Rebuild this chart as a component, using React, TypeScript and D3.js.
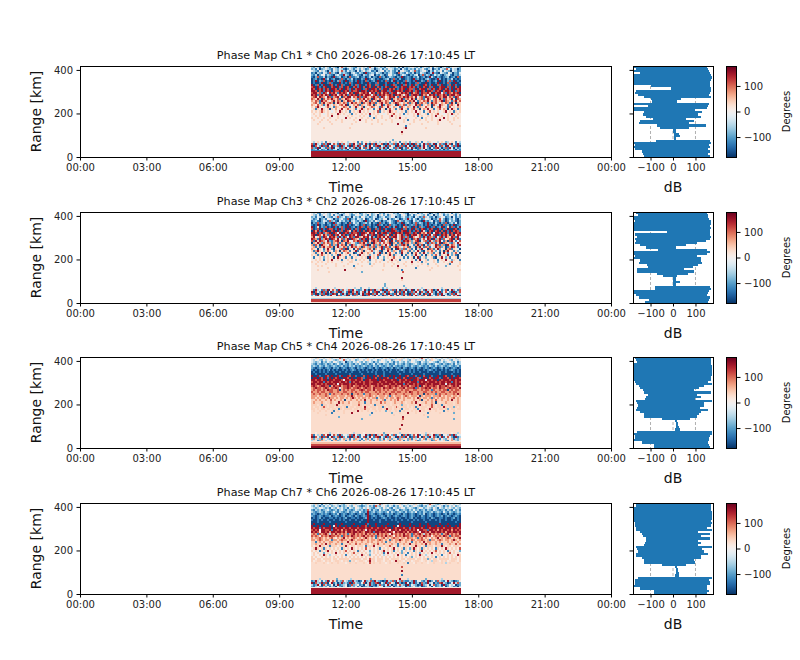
import { useRef, useEffect } from "react";
import * as d3 from "d3";

// Phase levels, one letter per cell in the grids below
const phaseLevels: Record<string, number> = {
  a: -165, b: -125, c: -90, d: -55, e: -20, f: 15, k: 30, g: 40, h: 75, i: 115, j: 155,
};

const titles = [
  "Phase Map Ch1 * Ch0 2026-08-26 17:10:45 LT",
  "Phase Map Ch3 * Ch2 2026-08-26 17:10:45 LT",
  "Phase Map Ch5 * Ch4 2026-08-26 17:10:45 LT",
  "Phase Map Ch7 * Ch6 2026-08-26 17:10:45 LT",
];

const timeTicks = [0, 3, 6, 9, 12, 15, 18, 21, 24];
const rangeTicks = [0, 200, 400];
const phaseTicks = [-100, 0, 100];
const dbTicks = [-100, 0, 100];
const startHour = 10.43;
const stopHour = 17.2;
const rangeMax = 418;

// Rows run from the top of the range axis down, columns from startHour to stopHour.
// A one letter row is a flat row over the whole time span.
const phaseCh1 = [
  "dcedbecfdbedcaeidcefdcbedfdeciebdecdbfeddcebeadcdefdcebdedcfbedcadecbdfedc",
  "cdbeacdedcbfdcedbacedbdecfdbcedacdebdcfedbcdaecbdcdbecdfcbdeacdbedcifbedac",
  "edcbfdecadbedcfidbecdcaebdfcdebcadefbdcecbdaefdcbedicbdefcadbecdfbedcaedbc",
  "bcadcbedbicdbaecdcbadecbdcajbcdbedcacbdecbaidcbecbdacbedcabdjcbaedcbfdacbe",
  "cbdacefbdcbadecbjdcabdecbadcbdeacbdcabfecdbacedbacbdeacibdcabecdbacdebacbd",
  "bacibbdacbajbcdabcaibbcdabcabdacbaibcabdcbacbjabcbacbdabcabjdbacbabcdabcaib",
  "abcabajbdabcaabibacbdabaacbjabdcabaabcdabibacaabcbajbcabacdbaabjcabacbdabab",
  "abjacbiabajbacibajabcabjabaibabcajabaibacjabaabicbabjaacbaibabcajabacibjaba",
  "abaabjaabibaaajbabaibaajabaajbaabiaaabjaabaiabajabaabibaajabaabjaabaibaajab",
  "jabiabjaajiabjaibaajbaibjaabjiaaibaajbaajibaajbiabjaibaajiabjaaibjaabiajbaa",
  "ijajbaijaaijajbiajiaaijbjaiajiajaijbaijaajibaijjaijiabjaijaibjaaijjaibjaiaj",
  "jiajijbjiajjiaijajibjaijjabijajjiaibjjaijiabjijajiibjaijjaibjiajijaijbjajij",
  "jjiaijbjijajiijajijbjiijajjiajijijaijjbijajijiajjijbijajiajjibjijaijjiajbij",
  "ijjhibjiejijhbjijiejiajjhijijejiaijhjijbijjehjijiajhijbjiijhajijjeibjihjija",
  "jijbijhjiajijeijhjbijijaijhjjieijbjijhijiajijheijbijjiajhiejijbjihjiaijjhij",
  "hijgjihejibhijgaihjjeihjibijhgijhibjiehjijgbihjijhigjehibjihgjiaihjjgihbjie",
  "ihgjhaigihjhgibhgjiheghbihjgihajhgieighjahgihjbhigjhaghibgjhehigjhbighjgaih",
  "hgihbjhigehjgihahgjihbgehigjhbighajhgihfbjghijhagihjebhgihjgbhighjaihgbhjgi",
  "ghigbhjghihagjhgihbgjhighaighjhibghjgihbghjigehgibhgjahighbgjhigehgihbjgahg",
  "hgfighbgjgehgfhigjagfhgibhgehigahfgjbgihgfajhgibghgfjhibgfhgaigejhgfbhigfjg",
  "gfhjgfegigfbhgfgihgbfgjgfhagfgihfgbigfjgehgfbigfhgfjgbhgfigfagfhjgfgbifgehg",
  "fgbgfjgfgagfhfgjfgigfgbfgjgfhgfbfgjfgagifgbfhjfgbfgifgafhgjfgbfgifhgafjgfbg",
  "gfgfgigfgfefgfjgfgfbfgfgjfgfgefgfibfgfgjgfgefgfbgfgfjfgfbfgifgfgefgjfgfbgfg",
  "fgffgfefgfgffjgfgffgbfgffgfgfjfgfgffefgfgiffgfbfgffgfjgffgbfgfgiffefgfjgfgf",
  "ffgfgfffgfjffgffffgfgfffgfgffbffgffgfffgjfgfgffefffgfbfgffgfgfjffgffgfefgff",
  "gffgffgffgfffgfffjfgffgffgffgffbgffgfffgffgfjffgffffgffbfgffgfffgfjfgffgfgf",
  "fgfffgffgfffgffgfffffgffjffgffgffgfffgffgfffffgfbffgffgffgffgffgjfffgffgfff",
  "ffffgffffgfffffgffffffgffffgfffffgffffffgfffffgffffgffffffgffffgfffffgfffff",
  "fffgffffffgfffffffffgfffffffffgffffgfffffffjfffffgfffffgfffffffgffffffgffff",
  "fffffffffffffffffffffffffffffffffffffffffffffffbffffffffffffffffffffffffffg",
  "ffffffgffffffffffffgffffffffffffffffffffffffffgjfffffffffgfffffffffffffffff",
  "f",
  "ffffffffffffffffffffffffffffffffffffffffffffffjfffffffffffffffffffffffffffff",
  "ffffffffffffffffffffffffffffffffffffffffffffffgfffffffffffffffffffffffffffff",
  "f",
  "f",
  "fffffffffffffffffffffffffffffffffffffffffcffffffffffffffffffffffffffffffffff",
  "fdfgfdfbfgfefdfgffdefgfbfcfgfdfgdfdefdfcfgdfbfgdfcffdgfbffdgfefdfgfcdfgfbfd",
  "ibjdebicjaeigbjciedibjfcibejcaibjdgiabjdcibjeaicjbjaidbejcibdjaeicbjdiafbjc",
  "jaiecjbiafjbdiajcfbjaidjbeiadjfbijaecjbifdajcibjeacjbiadjebiacjfbidajecibja",
  "icbjaedbicjafdbicjebdiacjfbidjaecbidjcafebicjadbiejcabidjfcaebijdacibjeadbc",
  "bcdaebcdacbdeacbdcaebdcabdecbacdbeadcbeacdbdeacbdcaedbcdeacbadcebdacbdecadb",
  "f",
  "f",
  "f",
];

const phaseCh3 = [
  "edfcbedfdcefdbedcfedcfdebcedfecdefcdbedfecdbefdcaedfebdcefdacedbfdcedfbecdf",
  "fdcebdfedcfbedcadefdbcefdcedbfcdeadfcebdfedcbefdacebdfedcfbdeadcfebdcefdbec",
  "cdbedcaedcbedicdebcdaecdbfecdbcedacdebcdfeacbdecbdcaedbcidecbdacdfebcdaebdc",
  "dbceacdbfedacbdecbiacdbedcfabdceabdcfeadbcedabdcjdbecadbcfedacbdiecabdcebad",
  "bcdbacedbicdbaecdbcadecbdcajbcdbfdcacbdecbaidcbdcbaecdbajcbdeacbidcabecdbac",
  "acbibcdacbajbdcabcaibecdabcdbdacbaibcabecbacbjacdbacibdcabjbcadbacbiacdbeac",
  "babjacbabcabicbabajbabdcabiabcabajbcabaibcbabajbabcbiabcabjbabcabaibcabjabc",
  "jabgacbiabajbacibajabcabjibaibabcajabjibacjabahicbajbaicbajabiabcjabgaibacj",
  "iabiajbajiiabjaibjajbaibjaabjiaaibjajbaajibaajbiabjaibaijabjiaajbaibjaajiab",
  "ajhjbaijaaijajbiajigaijbjaiajiajaijbaijajjibaijjaiabjiajgbaijaijaiajbjaijib",
  "jjiaijbhijajiejajijbjiijajjigjijejaijjbijajijiajjibjiajhigjiaejjiaijbjiajij",
  "ijajigjhbijaijejiabjijgjajiejbijaijjbigjaijehjbijaijjgiaijbjeijabjijhaijgji",
  "hjegibjiejijhbjcjiejibjjhgjijejcaijhjgjbijjehjiciajhegibjcjihbjeijcjhgjibje",
  "jihbjchjiajigjeibhjajihgbjiajcjihjbiejhjagiehjbjicaihjbgiejiajchjbiegijahjb",
  "ibjgjihejcbhijgaihjfeihjibijagijhibjiehajgbihbjijhcgijaehibjgcihjebhaijgbei",
  "ahgjhcigihbhgibhgaihegcbihjgbhajhgieighjahgbhjbhigchaihgebjcihbgjaihgcbhejg",
  "hbigajhgeibhcjgihagbjhceghibjagichbhgjeiagbhcijhagebhjciagbhegjibhcajgihebj",
  "ghbgbhjghihagjdgihbgjhighaighchibghjbihbghjigehgibgdahjgbihbegjhicgabhjigbe",
  "hgfagfbgjgcagfhibjagfagibhgehigahfgjbgihafajhcibghbfagcjgfaihbgjcfgahibgfea",
  "gbhjgfcgigfbhgagihgbfgjbfhagfgidfgbagfjgchgfbigfhbgcfjgbafhgigcfbgahjfgbgcf",
  "fgbgfjgagagfhfgbfgigfabfgjgfhgfbfgjbgagifgbfcjfgbfagifbgjfcghbfgafjgbfcgifa",
  "gfgbgigfgfcfgajgfgfbfgfbjfgfgcfgfibfgfgjgbgefafbgfcgjfgbfagfcgifbgfgjfcgbaf",
  "fbffgfcfgfgafjgfgbfgbfgffgfgajfgfbffcfgfgiffgfbfbfgafjbfgcffgbafgjfcgbffgaf",
  "ffgfgfbfgfjffgfbffgfgfcfgfgffbffgffgbffgjfgfbffeffgfbfjffgcffgfbfgfjffcgffb",
  "gffgfgffgfgffffgfffggffffgffgdffgfgfffgfgffgfffgffjffgfbfgfffgfcffgffgifffg",
  "ffgffffgffffgfffffgffffgfffffcfgffffgffffgffffgfffgffffgffcfffgfffffgbffffg",
  "fffgfgffffffgfffgffffbfffgffffgfffffgfffgffjfffgfffffgffffgffffgfffcfffffgf",
  "ffffffffgfffffffffffffgfffffffffffffffffffffgffffffffbfffffffgffffffffffffff",
  "fffgfffffffffffffjffffffffffffffffffgfffffffffbfffffffffffffgffffffffffffffg",
  "fffffffffgffffffffffffffffcffffffffffffffffffffifffffffffffffffffffffffffffff",
  "f",
  "f",
  "ffffffffffffffffffffffffffffffffffffffffffffffjfffffffffffffffffffffffffffff",
  "ffffffffffffffffffffffffffffffffffffffffffffffgfffffffffffffffffffffffffffff",
  "f",
  "fffffffffffffffffffffffffffffffffffffcffffffffffffffffffffffffffffffffffffff",
  "fffffffffffffffffffffffffffffffffffffcfffffffffcffffffffffffffffffffffffffff",
  "ffdffffeffffdfffffefffdffcfffdffffefcfdfffffefffdffffeffdfffffefffdffffefffd",
  "gbjdfbicjaeigbjciedibjfcbcejcaibjdgiabjdcibjeaicjbdjaeicfbjdgiacjebdiafjcebi",
  "jaiecjbiafjbdiajcfbjaidjbeiadjfbijaecjbifdajcibjeabicjfaidbjeicadjbfiecajbdi",
  "ibjacibjacbjiaebjdaicjbiaejbijaicjebidajcbiafjbicajbiecjdaibjfcaibjedacibjfd",
  "cfbjeaidbcjfeaibdcjafbicedjabifcjebdaicfjbeiadcjfbiaejcdbifajcebidjafcbeidja",
  "f",
  "f",
  "f",
];

const phaseCh5 = [
  "fedgefdefgdefeidfedefgedfeedgefdefedfgedefdfegdedfegfedifedfgedefdfedgefdfe",
  "edfedcfdefedcdfeidedfecdefdfgedefcdfedefcdfegdefdcfedefdfcedgfedcfdefdcfedf",
  "edcdebdcedcfedcdeacdcedfdcecdedbdcefedcedbdcedcecdfedcbedcdfedcbdecdefdcebd",
  "dcbdcbcdbcdbcecbdcbdcbdcecbcdbcebdcbdcdbcbecdcbdcbcdecbdcbdcbcedcbdcbcdbecd",
  "cdcbdcbdcbcdcbcdbcbdcdbcbcdcbcbdcbdcbcdcbdcbcbcdcbdcbcdcbcbdcbdbcdcbcdcbcdb",
  "cbabcbabcbacbcabcbabcbacbcbabcbacbabcbabcabcbacbabcbacbabcbabcbabcacbabcbab",
  "bababababcababaabababcbabababaababaabababaababcbaabababaababcbabaabababcbaba",
  "abaabababaabaabaabaabaaabaaabababaaabaabaaabaabaababaabaaabaabaabaabaaababa",
  "aabaaaabaaaabaaaaaabaaaaabaaaaaabaaabaaaaaaabaaaaabaaaaabaaaaaaabaaaaabaaaa",
  "jaajbaajiajaajbjaajiajbaaaiajaajaiajbaajajaajaajiaajbajaiaajbaajaajiaajbaja",
  "ajjajiajbjajijaajjiajaajjibajjajiajajjiaajbjjaijajjajibajjaijajjbajjiajajji",
  "jjijjijjajjijjjiejjijjijjiajjijjjajjijjjijjaijjijjajjijjjejjijjajijjjijjijj",
  "ijjijjbjijijjjijjijbjijjijijjiijjjijjijjjijjijijjijjjbjijjijjjijijjijjbjiji",
  "jjijjijijjjijejijjjijjijjjijjijjjijijjjijjijjjbjijjijijjjijjijjjijjejijjijj",
  "ijihijjiiahjiijhiijijhiijijijihijijjihijiijihjiijhiijiajhijiijihjiijihijijh",
  "hijiihijihiijiehiijihiijihijiihjiiihjiijihihiijhiiijbihiijijhiihjiihijiiihj",
  "hihiihihjiihhiahihihiihhijihiihjhiihihihhiihhihiihhiihhihiihbihhihiiahihiih",
  "ihhihiihhiihhihhiihhihihhihiihhhihihhihhiihiihhihjihhihhiihhihihhiihhihiihh",
  "hihhihhihbhihhhihhihahhihhbhhihhhihhihhjhhihhhihhhihhihhahihhhbhihhihhhihjh",
  "hhhghhhihghhhghhhghhjhghhhghhihghghhhghbhghhhghihghhhgahghhhghhhighghhghhgh",
  "hhghghhghjhhghghhghghjhghghhghghhbghhghghhghihghghhghgjhghhghbhghghhghghighg",
  "gghghgghggighgghgagghgghghgjgghgghgghbgghghgigghgggghgghagghghgigghgghgjgghg",
  "ghggghgkgghgkgjghgghkggghggbgghkgggighggkghggghgkgghgjgkgghgghgagkgghgggkghg",
  "gggkgbggkggggjgkggggkgggigkgggkgbggggkggkgggkgcggkgggkgjgkgggigkggbgkgggkggg",
  "gkggkgigkgggkgggkgbkggkgggkjgkgggkggbgkggkgigkgggkgkgbgkgggkgigkggkjgkggcgkg",
  "ggkgkggkggkggkbgkggggkggkggiggkggkggkgjggkggkgbkggkkggbkggkgjkggkggkgckggkgg",
  "kgkkgkkgkkgbkgkkgkkkkgkjkgkkgkkkgkgkkckgkkgkbkgkkkgkgkjkgkkgkkgkkkbkgkkgkkk",
  "kkkgkkkkkkbkkkkkgkkkjkkkkkkkkkbkkkkkkkkkckkkgkkkjkkkgkkkkkbkkkkkgkkkkkkckkk",
  "kkkkkkkgkkkkkkkkkkkkkkkkkkkkkdkkkkkkkkkkkgkkkkkkkkkkkkkkgkkkkkkkkkkkkkkkkkk",
  "kkkkkkkkkkkkkkckkkkkkkkkkkkkkkkkkkkkkkkkkkkkkkkjkkkkkkkkkkkkckkkkkkkkkkkkkkkk",
  "kkkkkkkkkkkkkkkkkkkkkkkkkkckkkkkkkkkkkkkkkkkkkkikkkkkkkkkkkkkkkkkkkkkkkkkckkk",
  "kkkkkkkkkkkkkkkkkkkkkkkkkkkkkkkkkkkkkkkkkkkkkkgkkkkkkkkkkkkkkkkkkkkkkkkkkkkk",
  "k",
  "kkkkkkkkkkkkkkkkkkkkkkkkkkkkkkkkkkkkkkkkkkkkkkjkkkkkkkkkkkkkkkkkkkkkkkkkkkkk",
  "k",
  "kkkkkkkkkkkkkkkkkkkkkkkkkkkkkkkkkkkkkkkkkkkkkikkkkkkkkkkkkkkkkkkkkkkkkkkkkkk",
  "k",
  "kkfkkkfkkdkkkfkkkkkfkdkkkkfkkkkkfkkkckkkfkkkdkkkkfkkkkfkkdkkfkkkkfkkkkfkkdk",
  "ibfdgbifjaeigbjcfedibjfcbfejcaibjdgidbjfcibfeaicjbdifjbegcidfjbciaefdibjcfe",
  "jaiecjbiafjbdiajcfbjaidjbeiadjfbijaecjbifdajcibjeabicjfaidbjeicadjbfiecajbd",
  "hcgdhbgedcfhbgcehdgbfchgdbehcgbdehcgbfdhcgebhdgfchbgdecfhbgdchegbfdcgehbdcg",
  "dgfbchgdfebghcdfgbecfhgdbfcgehdbfgcdhegbfcdghfbecgdfhbcgedfgbchfdegcbfhgdce",
  "k",
  "k",
  "k",
];

const phaseCh7 = [
  "edgdebfdecdfedfdcefedgdefcedgefdefidfedefdefgdefdefdgedcfedifedcdfedgefdefd",
  "dcedbdcedfcdedbdcdfdcefdcbcdecdbidcefdcedbdcfecdecdfedcbdcefdcdefdbdcedfcde",
  "edcdfedcdbedcfdecdbedcfedcedfdcbdedcfdecbedcdfecdedcbdfecdedcfdbedcedfdcedc",
  "cbdcdbcdecbcdbdecbdcbcedcdbcidbdcbecdcbdcbdebcdcbdcecdbcdbdcbedcbcdbdcbecdb",
  "dcbcdcbdcbcecbdcbcdbcdcbecbcjbcdbcdcbcebdcbcdcbdbcdcebcbdcbcdbcdcbecbdcbcdc",
  "bcbabcbcbabcbdabcbabcbabcbcajbcbabcbabcbcabcbacbabcbabcbdabcbabcbabcacbabcb",
  "cbabcbabbcabcbabcabcbacbabcbjabcbabcbacbabcbabcbabcbabacbabcbabcbcabcbabcba",
  "ababcabaabbabababcaabbabaabcjababaabcbabaababaababcabaabbabacbaabbabaabcaba",
  "baababaabaabaababaabaabaabaajaabaabaabaababaabaabaababaabaabaababaabaabaaba",
  "aaabaaaaabaaaaaaabaaaaaabaaajaaaaabaaaaaaaabaaaaaabaaaaaabaaaaaabaaaaaaabaa",
  "ajaaaajaaaaajaajaaaaajaaaaajbaaajaaaaajaaaaajaaaajaaaajaaajaaaaajaaajaaaaaj",
  "jaajajaaajaejajaajaajaajajjiajaajaajajaaajaejajaajajaajajajjaajaajajajaajaj",
  "jijjbjijjjajijjjijjijjjijjjijjijjijjjijjajijjjijjbjijjjijajijjjijjijjjijjij",
  "ijijfjjiijbjjijhjijjijhjijiejijjijjjijifjjijhjjijijijfjjiibjjijhjijjijhjiji",
  "jijifjjijhjjijjijhjjijjijihjjijbjjijjijjifjijjijhjijjifjjijhjjijjijhjjijjij",
  "hihbihijhdihjhihihbhijhihihjhihihjhihihfjhihihjhihbihijhdihjhihihbhijhihihj",
  "ihihfihihjiihihbihihjihihijhihihbihihjhihfihihjiihbhihihjihifhihihjihbihiih",
  "hghhihghghigfhghjghghihghghjhghgbhghighghihhghhgihhghbhighgfhghjghghihghghj",
  "hhghihghhgbhhghihhghjhghhihghghhghihghgbhghhjhghhgihghhihghbhhghihghhghjhgh",
  "ggbghghgghhgghghggjghghgghgghghgghghgbghgghghgghggbghghgjghhgghghggghghgghg",
  "gghgghgjghgghggbggghggighgghgfghgigghggghggbgghggjgghgghgjghgghggbggghggigh",
  "gfggjggfgbgggfgggjgfggfgggfbgggjfgggfggigfgbgfgggfggjggfgbgggfgggjgfggfgggf",
  "fgjgfgbgfgfgfgfbgfgfjgfgfgfifgfgfgbfgfgfgjfgfgbgfcgjgfgbgfgfgfbgfgfjgfgfgfi",
  "gfgfbgfgjfgfgfgfgifgfgfbgfgffcfgfgfgjfgfgbfgfcfgfgfbgfgjfgfgfgifgfgfbgfgffc",
  "fgfgffcfgfgfjfgfgfgfgifgfgfgfdfgfgfgbfjfgfgfgcgfbfgfgfcfgfgfjfgfgfgfgifgfgf",
  "fgffgfjgfdffgffgfbffgfgffjgfgcffgfgfdfgffgfjfgfbffgfgfjgfdffgffgfbffgfgffjg",
  "gfgffgfgfgfgfgfgfgfgfgfgfgfgfgfgfgfgfgfgfgfgfgfgfgcfgfgfgfgfgfbfgfgfgfgfgfg",
  "ggfggfggggfggfgggggfgggggfggfiggfgggfggfggggfggfggggfggfggcgfggfgggggfgggfg",
  "gfkggkfgkgfkggkfgkgckgfkggkfgjkgfggkfgkgfkjggkfgkgfkggkfkgfkdggkfgkgfkggkfg",
  "kkgkkkgkfkgkkgkkkfkgkkgkkkgkfikgkkgkkfkgkkkgkkgkbkkfgkkgkkfkkgkkkgkdkgkkkgk",
  "k",
  "kkkkkkkkkkkkkkkkkkkkkkkkkkkkkkkkkkkkkkkkkkkkkkikkkkkkkkkkkkkkkkkkkkkkkkkkkkk",
  "k",
  "kkkkkkkkkkkkkkkkkkkkkkkkkkkkkkkkkkkkkkkkkkkkkkjkkkkkkkkkkkkkkkkkkkkkkkkkkkkk",
  "k",
  "kkkkkkkkkkkkkkkkkkkkkkkkkkkkkkkkkkkkkkkkkkkkkkbkkkkkkkkkkkkkkkkkkkkkkkkkkkkk",
  "k",
  "kkkkdkkkkkkkkckkkkkkdkkkkkkkkkckkkkkkdkkkkkkkjkkkdkkkkkkkkckkkkkkkdkkkkkkkkk",
  "bcjdfbecjbfigbdciedbbjdcabejcdibjdcbabjdcibjecicbbdcjbefcbdjacfbidcbejdcabcf",
  "jaidcjbiafjbdacjcdbjaidcbeiadjcbijaecjbifdajcabjeacjbdaicbjdeacbijdcabejdic",
  "dbcjeaidbcfadjbcdeabicdfbcaedjcbadicbejdacbfidcajbedcabjcdfaeibcdajbcfdeabc",
  "cbdecbdcfbdcaecbdfabdcfbdabcdbacbdfeadcbeacdbdeacbdfcbdabcfdaebcdbfacedbcad",
  "f",
  "f",
  "f",
];

// Near-ground layers drawn on top of the grids: low km, high km, phase in degrees
const groundCh1: [number, number, number][] = [[0, 26, 150], [26, 32, -120]];
const groundCh3: [number, number, number][] = [[0, 5, 20], [5, 17, 125], [17, 22, -60], [22, 32, 15]];
const groundCh5: [number, number, number][] = [[0, 9, 165], [9, 17, 120], [17, 28, 55], [28, 32, 20]];
const groundCh7: [number, number, number][] = [[0, 26, 150], [26, 32, 15]];

// Spread of the dB panel per range gate
const specRanges = [
  415, 405, 395, 385, 375, 365, 355, 345, 335, 325, 315, 305, 295, 285, 275, 265, 255, 245, 235, 225, 215,
  205, 195, 185, 175, 165, 155, 145, 135, 125, 115, 105, 95, 85, 75, 65, 55, 45, 35, 25, 15, 5,
];
const specLowCh1 = [
  -175, -165, -175, -145, -175, -175, -175, -175, -175, -100, -10, -165, -170, -155, -130, -100, -95, -175, -110, -175, -175,
  -130, -135, -120, -90, -145, -150, -70, -60, 2, 2, 3, 3, 3, -75, -175, -170, -175, -170, -140, -135, -130,
];
const specHighCh1 = [
  150, 155, 160, 165, 170, 175, 170, 165, 165, 165, 170, 170, 165, 160, 170, 35, 20, 160, 155, 150, 100,
  130, 110, 125, 60, 95, 70, 145, 70, 12, 15, 25, 30, 15, 165, 170, 160, 165, 155, 165, 155, 165,
];
const specLowCh3 = [
  -165, -155, -175, -175, -170, -175, -175, -175, -175, -25, -170, -160, -170, -165, -170, -145, -120, -65, -175, -175, -170,
  -175, -145, -150, -115, -110, -160, -160, -70, -45, 2, 2, 2, 2, -80, -80, -175, -175, -165, -150, -105, -125,
];
const specHighCh3 = [
  150, 155, 155, 160, 170, 170, 165, 170, 165, 165, 165, 170, 165, 145, 105, 60, 15, 150, 165, 150, 105,
  125, 125, 130, 110, 90, 50, 95, 65, 20, 15, 12, 30, 15, 165, 170, 160, 155, 150, 165, 160, 155,
];
const specLowCh5 = [
  -170, -165, -160, -175, -175, -175, -175, -175, -175, -175, -175, -170, -165, -150, -145, -135, -130, -110, -120, -125, -165,
  -160, -155, -160, -165, -145, -130, -130, -50, 10, 12, 12, 12, 10, -160, -175, -170, -170, -175, -140, -85, -85,
];
const specHighCh5 = [
  170, 170, 170, 170, 175, 175, 175, 175, 175, 170, 170, 155, 175, 140, 115, 95, 170, 105, 125, 100, 175,
  140, 140, 120, 155, 125, 115, 105, 75, 20, 22, 22, 25, 30, 175, 175, 165, 160, 160, 155, 160, 165,
];
const specLowCh7 = [
  -165, -165, -175, -175, -175, -175, -175, -175, -175, -170, -170, -165, -165, -145, -140, -135, -120, -120, -125, -130, -165,
  -160, -155, -165, -165, -140, -130, -130, -50, 10, 12, 12, 12, 10, -155, -170, -170, -170, -175, -145, -85, -85,
];
const specHighCh7 = [
  170, 170, 170, 170, 175, 175, 175, 175, 170, 175, 170, 150, 175, 110, 165, 125, 165, 110, 125, 110, 175,
  130, 140, 155, 125, 125, 95, 100, 60, 20, 22, 22, 25, 28, 175, 160, 165, 165, 150, 150, 160, 150,
];

const phaseGrids = [phaseCh1, phaseCh3, phaseCh5, phaseCh7];
const groundLayers = [groundCh1, groundCh3, groundCh5, groundCh7];
const specLows = [specLowCh1, specLowCh3, specLowCh5, specLowCh7];
const specHighs = [specHighCh1, specHighCh3, specHighCh5, specHighCh7];

const panelTops = [66, 212, 357, 503];
const panelHeight = 91;
const fontFamily = "'DejaVu Sans', sans-serif";
const dayStart = new Date(2026, 7, 26);

const hourDate = (h: number) => new Date(dayStart.getTime() + h * 3600 * 1000);
const phaseColor = (v: number) => d3.interpolateRdBu(1 - (v + 180) / 360);

export default function App() {
  const svgRef = useRef<SVGSVGElement>(null);

  useEffect(() => {
    if (!svgRef.current) return;
    const svg = d3.select(svgRef.current);
    svg.selectAll("*").remove();

    const x = d3
      .scaleTime()
      .domain([hourDate(0), hourDate(24)])
      .range([80, 611]);
    const xSpec = d3.scaleLinear().domain([-178, 178]).range([633, 713]);

    // Colorbar gradient
    const gradient = svg
      .append("defs")
      .append("linearGradient")
      .attr("id", "phase-gradient")
      .attr("x1", 0)
      .attr("x2", 0)
      .attr("y1", 1)
      .attr("y2", 0);
    d3.range(-180, 181, 10).forEach((v) => {
      gradient
        .append("stop")
        .attr("offset", (v + 180) / 360)
        .attr("stop-color", phaseColor(v));
    });

    const styleAxis = (g: d3.Selection<SVGGElement, unknown, null, undefined>) => {
      g.select(".domain").remove();
      g.selectAll(".tick line").attr("stroke", "#000").attr("stroke-width", 1);
      g.selectAll(".tick text")
        .attr("fill", "#222")
        .attr("font-size", 10)
        .attr("font-family", fontFamily);
    };

    panelTops.forEach((top, i) => {
      const bottom = top + panelHeight;
      const y = d3.scaleLinear().domain([0, rangeMax]).range([bottom, top]);
      const yPhase = d3.scaleLinear().domain([-178, 178]).range([bottom, top]);
      const g = svg.append("g");

      // Title
      g.append("text")
        .attr("x", 346)
        .attr("y", top - 7)
        .attr("text-anchor", "middle")
        .attr("font-size", 11.2)
        .attr("font-family", fontFamily)
        .attr("fill", "#111")
        .text(titles[i]);

      // Phase map cells
      const grid = phaseGrids[i];
      const rangeStep = rangeMax / grid.length;
      grid.forEach((row, r) => {
        const chars = row.split("");
        const hourStep = (stopHour - startHour) / chars.length;
        g.append("g")
          .attr("shape-rendering", "crispEdges")
          .selectAll("rect")
          .data(chars)
          .join("rect")
          .attr("x", (_, c) => x(hourDate(startHour + c * hourStep)))
          .attr("width", (_, c) => x(hourDate(startHour + (c + 1) * hourStep)) - x(hourDate(startHour + c * hourStep)))
          .attr("y", y(rangeMax - r * rangeStep))
          .attr("height", y(rangeMax - (r + 1) * rangeStep) - y(rangeMax - r * rangeStep))
          .attr("fill", (d) => phaseColor(phaseLevels[d]));
      });

      // Near-ground layers
      g.append("g")
        .attr("shape-rendering", "crispEdges")
        .selectAll("rect")
        .data(groundLayers[i])
        .join("rect")
        .attr("x", x(hourDate(startHour)))
        .attr("width", x(hourDate(stopHour)) - x(hourDate(startHour)))
        .attr("y", (d) => y(d[1]))
        .attr("height", (d) => y(d[0]) - y(d[1]))
        .attr("fill", (d) => phaseColor(d[2]));

      // Main frame and axes
      g.append("rect")
        .attr("x", 80.5)
        .attr("y", top + 0.5)
        .attr("width", 531)
        .attr("height", panelHeight)
        .attr("fill", "none")
        .attr("stroke", "#000");

      g.append("g")
        .attr("transform", `translate(0,${bottom})`)
        .call(
          d3
            .axisBottom(x)
            .tickValues(timeTicks.map(hourDate))
            .tickFormat((d) => d3.timeFormat("%H:%M")(d as Date))
            .tickSize(3.5)
            .tickPadding(3.5)
        )
        .call(styleAxis);

      g.append("g")
        .attr("transform", "translate(80,0)")
        .call(d3.axisLeft(y).tickValues(rangeTicks).tickSize(3.5).tickPadding(3.5))
        .call(styleAxis);

      g.append("text")
        .attr("transform", `translate(41,${top + panelHeight / 2}) rotate(-90)`)
        .attr("text-anchor", "middle")
        .attr("font-size", 14)
        .attr("font-family", fontFamily)
        .attr("fill", "#111")
        .text("Range [km]");

      g.append("text")
        .attr("x", 346)
        .attr("y", bottom + 35)
        .attr("text-anchor", "middle")
        .attr("font-size", 14)
        .attr("font-family", fontFamily)
        .attr("fill", "#111")
        .text("Time");

      // dB panel: grid first, spread bars over it
      g.append("g")
        .selectAll("line")
        .data(dbTicks)
        .join("line")
        .attr("x1", (d) => xSpec(d))
        .attr("x2", (d) => xSpec(d))
        .attr("y1", top)
        .attr("y2", bottom)
        .attr("stroke", "#b0b0b0")
        .attr("stroke-dasharray", "3,2")
        .attr("stroke-width", 1);

      g.append("g")
        .selectAll("rect")
        .data(specRanges)
        .join("rect")
        .attr("x", (_, k) => xSpec(specLows[i][k]))
        .attr("width", (_, k) => xSpec(specHighs[i][k]) - xSpec(specLows[i][k]))
        .attr("y", (d) => y(d + 5))
        .attr("height", (d) => y(d - 5) - y(d + 5))
        .attr("fill", "#1f77b4")
        .attr("shape-rendering", "crispEdges");

      g.append("rect")
        .attr("x", 633.5)
        .attr("y", top + 0.5)
        .attr("width", 80)
        .attr("height", panelHeight)
        .attr("fill", "none")
        .attr("stroke", "#000");

      g.append("g")
        .attr("transform", `translate(0,${bottom})`)
        .call(d3.axisBottom(xSpec).tickValues(dbTicks).tickFormat(d3.format("d")).tickSize(3.5).tickPadding(3.5))
        .call(styleAxis);

      g.append("g")
        .attr("transform", "translate(633,0)")
        .call(d3.axisLeft(y).tickValues(rangeTicks).tickFormat(() => "").tickSize(3.5))
        .call(styleAxis);

      g.append("text")
        .attr("x", 673)
        .attr("y", bottom + 35)
        .attr("text-anchor", "middle")
        .attr("font-size", 14)
        .attr("font-family", fontFamily)
        .attr("fill", "#111")
        .text("dB");

      // Colorbar
      g.append("rect")
        .attr("x", 726.5)
        .attr("y", top + 0.5)
        .attr("width", 10)
        .attr("height", panelHeight)
        .attr("fill", "url(#phase-gradient)")
        .attr("stroke", "#000");

      g.append("g")
        .attr("transform", "translate(737,0)")
        .call(d3.axisRight(yPhase).tickValues(phaseTicks).tickFormat(d3.format("d")).tickSize(3.5).tickPadding(3.5))
        .call(styleAxis);

      g.append("text")
        .attr("transform", `translate(790,${top + panelHeight / 2}) rotate(-90)`)
        .attr("text-anchor", "middle")
        .attr("font-size", 10)
        .attr("font-family", fontFamily)
        .attr("fill", "#111")
        .text("Degrees");
    });
  }, []);

  return (
    <svg
      ref={svgRef}
      width={800}
      height={660}
      viewBox="0 0 800 660"
      style={{ position: "absolute", left: 0, top: 0, background: "#fff" }}
    />
  );
}
